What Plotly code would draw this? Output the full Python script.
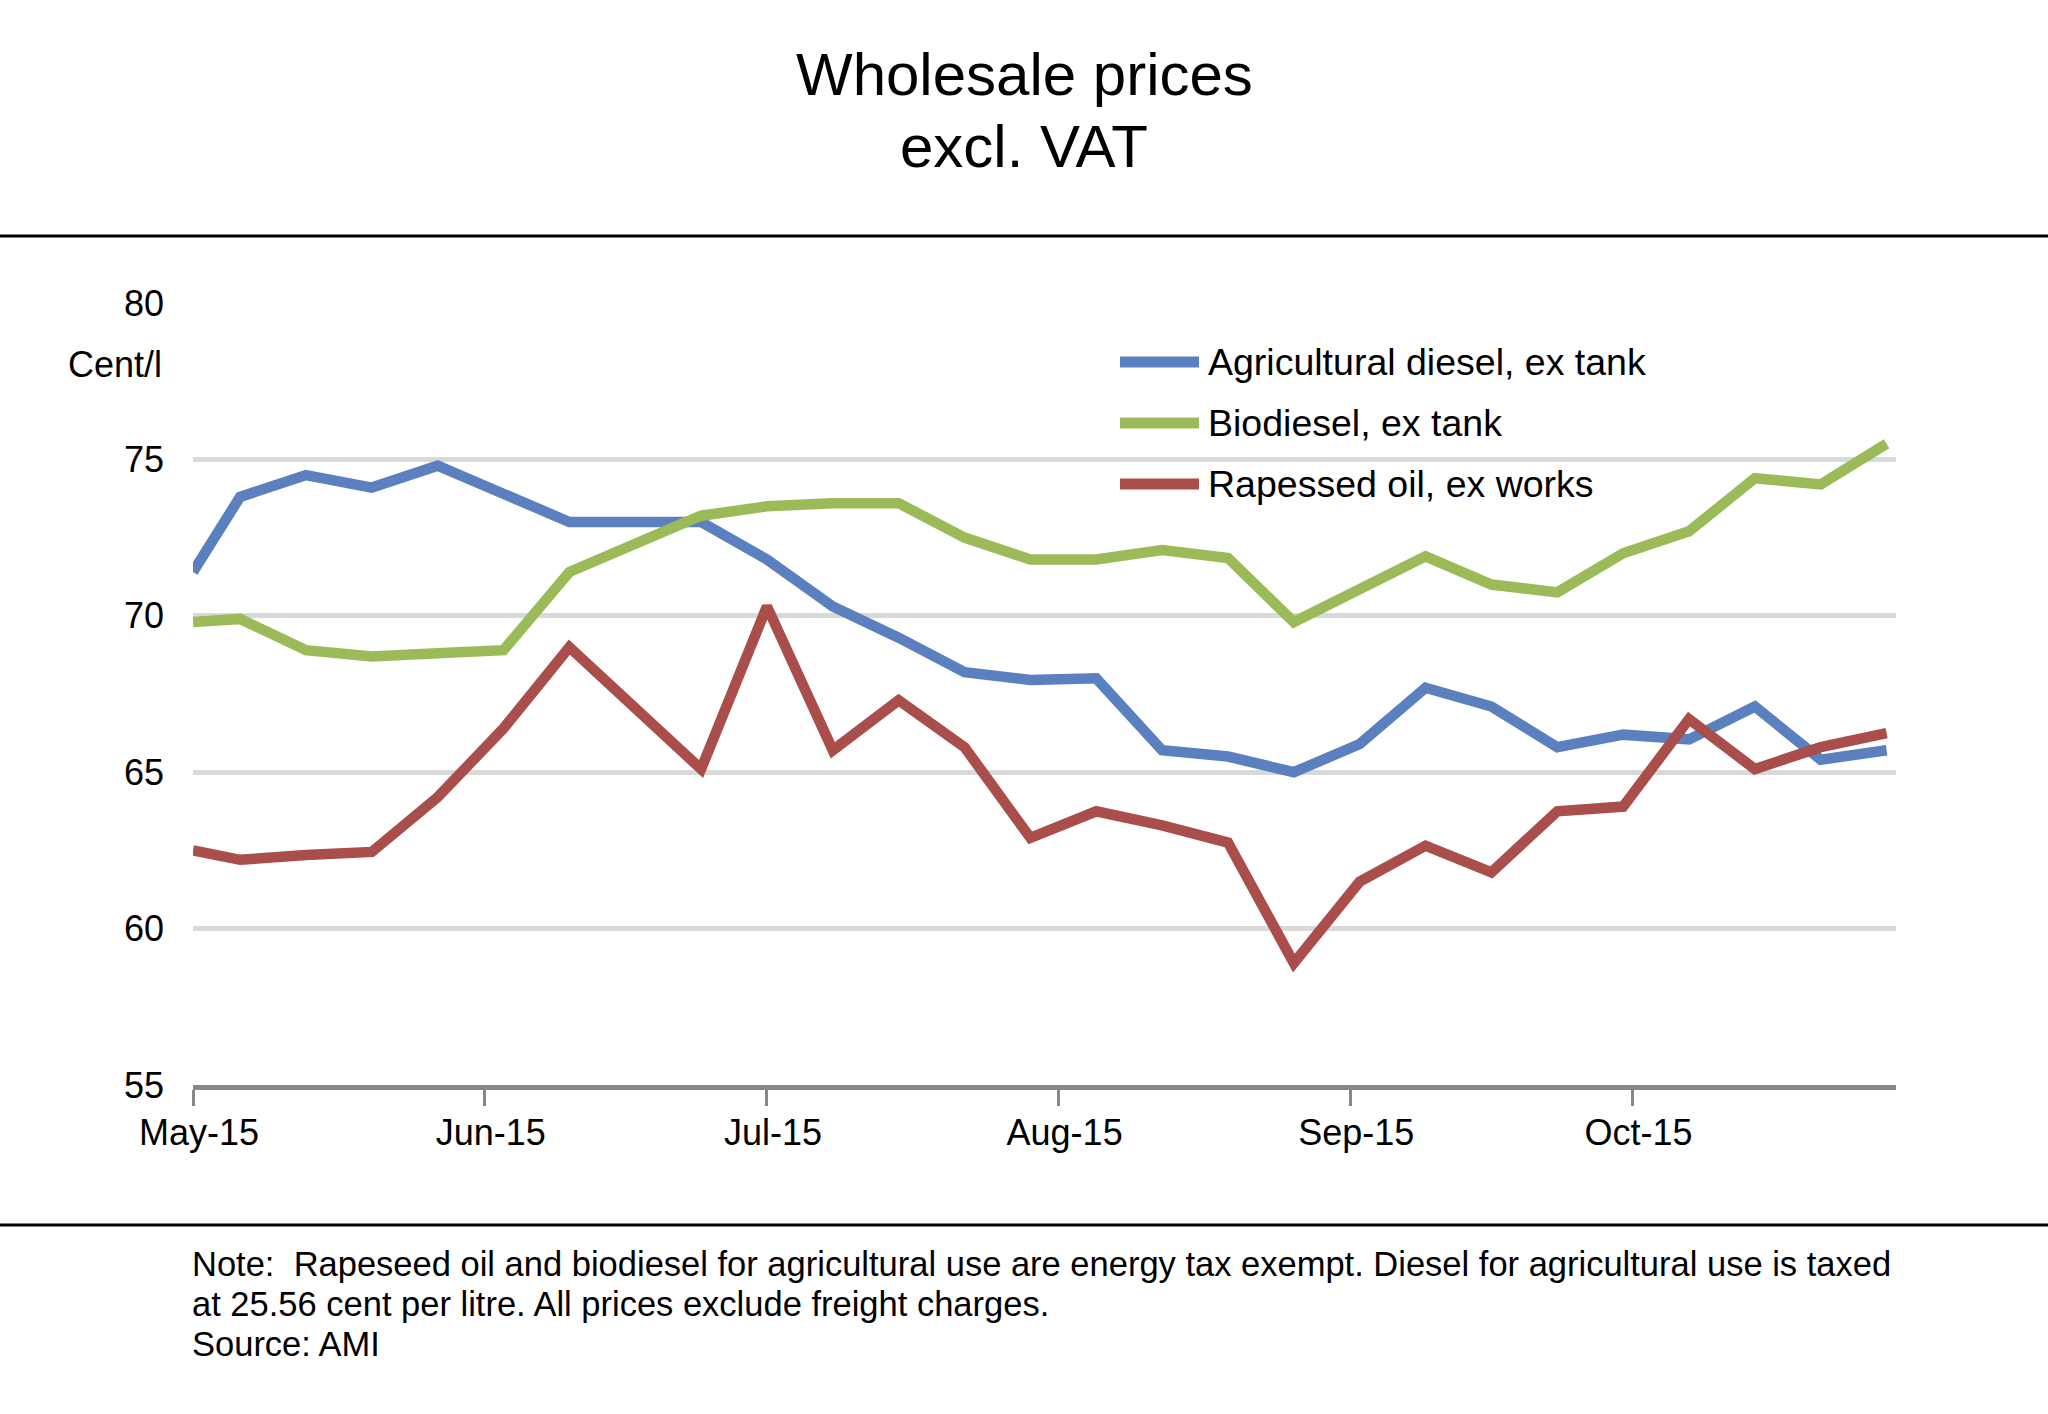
import plotly.graph_objects as go
import pandas as pd

# weekly quotes, cent per litre
dates = ["2015-05-01"] + [d.strftime("%Y-%m-%d") for d in pd.date_range("2015-05-06", "2015-10-28", freq="7D")]

agri_diesel = [71.4, 73.8, 74.5, 74.1, 74.8, 73.9, 73.0, 73.0, 73.0, 71.8, 70.3, 69.3, 68.2, 67.95,
               68.0, 65.7, 65.5, 65.0, 65.9, 67.7, 67.1, 65.8, 66.2, 66.05, 67.1, 65.4, 65.7]
biodiesel = [69.8, 69.9, 68.9, 68.7, 68.8, 68.9, 71.4, 72.3, 73.2, 73.5, 73.6, 73.6, 72.5, 71.8,
             71.8, 72.1, 71.85, 69.8, 70.85, 71.9, 71.0, 70.75, 72.0, 72.7, 74.4, 74.2, 75.5]
rapeseed_oil = [62.5, 62.2, 62.35, 62.45, 64.2, 66.4, 69.0, 67.0, 65.1, 70.3, 65.7, 67.3, 65.8, 62.9,
                63.75, 63.3, 62.75, 58.9, 61.5, 62.65, 61.8, 63.75, 63.9, 66.7, 65.1, 65.8, 66.25]

series_names = ["Agricultural diesel, ex tank", "Biodiesel, ex tank", "Rapessed oil, ex works"]
series_colors = ["#5B80BF", "#9BBB59", "#AA4E4B"]

title_lines = ["Wholesale prices", "excl. VAT"]
note_lines = [
    "Note:  Rapeseed oil and biodiesel for agricultural use are energy tax exempt. Diesel for agricultural use is taxed",
    "at 25.56 cent per litre. All prices exclude freight charges.",
    "Source: AMI",
]

W, H = 2048, 1414
FONT = "Liberation Sans, Arial, sans-serif"


def px(x):
    return x / W


def py(y):
    return 1 - y / H


fig = go.Figure()
for name, vals, col in zip(series_names, [agri_diesel, biodiesel, rapeseed_oil], series_colors):
    fig.add_trace(go.Scatter(x=dates, y=vals, mode="lines", name=name,
                             line=dict(color=col, width=10.5), showlegend=False))

# hand-made legend (long line samples like the original)
shapes = []
annotations = []
for i, (name, col) in enumerate(zip(series_names, series_colors)):
    yy = py(362 + i * 61)
    shapes.append(dict(type="line", xref="paper", yref="paper", x0=px(1120), x1=px(1199),
                       y0=yy, y1=yy, line=dict(color=col, width=11)))
    annotations.append(dict(text=name, xref="paper", yref="paper", x=px(1206), y=yy,
                            xanchor="left", yanchor="middle", showarrow=False,
                            font=dict(size=37.5, color="black")))

# black rules above and below the plot
for yline in [236, 1225]:
    shapes.append(dict(type="line", xref="paper", yref="paper", x0=0, x1=1,
                       y0=py(yline), y1=py(yline), line=dict(color="black", width=3)))

annotations.append(dict(text=title_lines[0], xref="paper", yref="paper", x=0.5, y=py(74),
                        xanchor="center", yanchor="middle", showarrow=False,
                        font=dict(size=60, color="black")))
annotations.append(dict(text=title_lines[1], xref="paper", yref="paper", x=0.5, y=py(146),
                        xanchor="center", yanchor="middle", showarrow=False,
                        font=dict(size=60, color="black")))
annotations.append(dict(text="Cent/l", xref="paper", yref="paper", x=px(164), y=py(364),
                        xanchor="right", yanchor="middle", showarrow=False,
                        font=dict(size=36, color="black")))
for i, line in enumerate(note_lines):
    annotations.append(dict(text=line, xref="paper", yref="paper", x=px(190), y=py(1264 + i * 40),
                            xanchor="left", yanchor="middle", showarrow=False,
                            font=dict(size=34.5, color="black")))

fig.update_layout(
    autosize=True,
    margin=dict(l=0, r=0, t=0, b=0, pad=0),
    paper_bgcolor="white", plot_bgcolor="white",
    font=dict(family=FONT, color="black"),
    shapes=shapes,
    annotations=annotations,
    xaxis=dict(
        domain=[px(193), px(1896)],
        automargin=False,
        type="date",
        range=["2015-05-01", "2015-10-29"],
        tick0="2015-05-01", dtick="M1", tickformat="%b-%y",
        ticks="outside", ticklen=16, tickwidth=3, tickcolor="#878787",
        showline=True, linecolor="#878787", linewidth=5,
        showgrid=False, zeroline=False,
        tickfont=dict(size=36, color="black"),
        ticklabelstandoff=-4,
        ticklabelshift=6,
    ),
    yaxis=dict(
        domain=[py(1085), py(303)],
        automargin=False,
        range=[55, 80], dtick=5,
        showgrid=True, gridcolor="#D9D9D9", gridwidth=5,
        zeroline=False, showline=False, ticks="",
        tickfont=dict(size=36, color="black"),
        ticklabelstandoff=28,
    ),
)

fig.write_html(
    "out.html",
    default_width="100vw",
    default_height="100vh",
    config={"displayModeBar": False},
    post_script="document.body.style.margin='0';document.body.style.overflow='hidden';",
)
